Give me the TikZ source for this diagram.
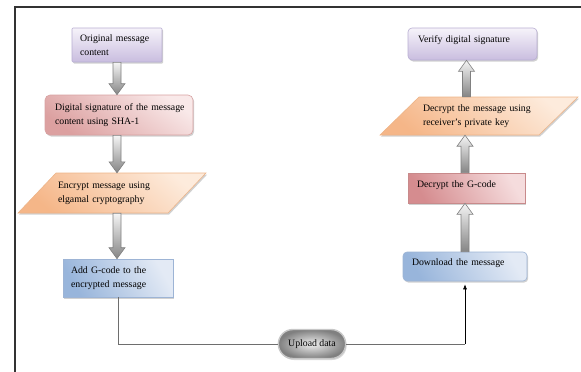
\documentclass[tikz,border=0pt]{standalone}
\usepackage{fontspec}
\setmainfont{Liberation Serif}
\usetikzlibrary{shapes.misc,shadows,backgrounds,calc,arrows.meta}

\definecolor{purpletop}{HTML}{F6F3FA}
\definecolor{purplebot}{HTML}{C9BDDF}
\definecolor{purpleedge}{HTML}{B8AED2}
\definecolor{pinklight}{HTML}{F9E9E9}
\definecolor{pinkdark}{HTML}{DCA0A0}
\definecolor{pinkedge}{HTML}{D7A2A2}
\definecolor{orangelight}{HTML}{FDEBDC}
\definecolor{orangedark}{HTML}{F5B688}
\definecolor{orangeedge}{HTML}{EDB488}
\definecolor{bluelight}{HTML}{E3EAF5}
\definecolor{bluedark}{HTML}{98B5DB}
\definecolor{blueedge}{HTML}{9DB4D5}
\definecolor{redlight}{HTML}{F5DCDD}
\definecolor{reddark}{HTML}{D58C8F}
\definecolor{rededge}{HTML}{C88A8B}
\definecolor{framecol}{HTML}{333333}
\definecolor{linkgray}{HTML}{6E6E6E}

\newcommand\oneline[1]{\mbox{#1}}

\newcommand\blockarrow[2]{%
  \path[blk] let \p1=(#1), \p2=(#2), \n1={11*sign(\y2-\y1)} in
    ({\x1-4pt},{\y1}) -- ({\x1-4pt},{\y2-\n1*1pt}) -- ({\x1-8pt},{\y2-\n1*1pt})
    -- ({\x1},{\y2}) -- ({\x1+8pt},{\y2-\n1*1pt}) -- ({\x1+4pt},{\y2-\n1*1pt})
    -- ({\x1+4pt},{\y1}) -- cycle;}

\tikzset{
  x=1pt, y=-1pt,
  base/.style={inner ysep=0pt, align=left, line width=0.6pt,
    font=\fontsize{9.8}{14}\selectfont,
    drop shadow={shadow xshift=1.2pt, shadow yshift=-1.5pt, opacity=0.3, fill=black!60}},
  single/.style={text height=7pt, text depth=9pt},
  purplebox/.style={base, draw=purpleedge, top color=purpletop, bottom color=purplebot},
  pinkbox/.style={base, draw=pinkedge, top color=pinklight, bottom color=pinkdark, shading angle=-35},
  bluebox/.style={base, draw=blueedge, top color=bluelight, bottom color=bluedark, shading angle=-60},
  redbox/.style={base, draw=rededge, top color=redlight, bottom color=reddark, shading angle=-60},
  paratext/.style={inner sep=0pt, align=left, font=\fontsize{9.8}{14}\selectfont},
  parashape/.style={draw=orangeedge, line width=0.6pt, top color=orangelight, bottom color=orangedark, shading angle=-40,
    drop shadow={shadow xshift=1.2pt, shadow yshift=-1.5pt, opacity=0.3, fill=black!60}},
  pill/.style={rounded rectangle, draw=black!22, line width=1.4pt, inner color=black!6, outer color=black!50,
    font=\fontsize{9.8}{14}\selectfont, drop shadow={shadow xshift=1pt, shadow yshift=-1.5pt, opacity=0.3}},
  blk/.style={draw=black!50, line width=0.6pt, top color=black!4, bottom color=black!48},
  link/.style={draw=linkgray, line width=1pt},
  frameline/.style={draw=framecol, line width=1.2pt},
}

\begin{document}
\begin{tikzpicture}
\useasboundingbox (0,0) rectangle (581,372);

% frame
\coordinate (fa) at (581,7);
\coordinate (fb) at (15,7);
\coordinate (fc) at (15,372);
\draw[frameline] (fa) -- (fb) -- (fc);

% left column
\node[purplebox, rounded corners=1pt, minimum width=90, minimum height=34, inner xsep=8, text width=74] (orig) at (117,45)
  {\oneline{Original message}\\\oneline{content}};
\node[pinkbox, rounded corners=5pt, minimum width=148, minimum height=40, inner xsep=10, text width=128] (sig) at (119,115)
  {\oneline{Digital signature of the message}\\\oneline{content using SHA-1}};
\node[paratext, minimum height=40, text width=108] (enc) at (112,193)
  {\oneline{Encrypt message using}\\\oneline{elgamal cryptography}};
\node[bluebox, minimum width=110, minimum height=38, inner xsep=8, text width=94] (add) at (118,278)
  {\oneline{Add G-code to the}\\\oneline{encrypted message}};

% bottom
\node[pill, minimum width=74, minimum height=29] (upload) at (312,344) {Upload data};

% right column
\node[bluebox, single, rounded corners=4pt, minimum width=124, minimum height=29, inner xsep=9, text width=106] (download) at (465,266.5)
  {\oneline{Download the message}};
\node[redbox, single, minimum width=117, minimum height=30, inner xsep=9, text width=99] (dgc) at (466.5,188)
  {\oneline{Decrypt the G-code}};
\node[paratext, minimum height=38, text width=112] (dec) at (479,116)
  {\oneline{Decrypt the message using}\\\oneline{receiver's private key}};
\node[purplebox, single, text depth=10pt, rounded corners=4pt, minimum width=129, minimum height=32, inner xsep=10, text width=109] (verify) at (472.5,44)
  {\oneline{Verify digital signature}};

% parallelograms behind the text
\begin{scope}[on background layer]
  \path[parashape] ($(enc.center)+(-94,20)$) -- ($(enc.center)+(-56,-20)$) -- ($(enc.center)+(94,-20)$) -- ($(enc.center)+(56,20)$) -- cycle;
  \path[parashape] ($(dec.center)+(-99,19)$) -- ($(dec.center)+(-60,-19)$) -- ($(dec.center)+(99,-19)$) -- ($(dec.center)+(60,19)$) -- cycle;
\end{scope}

% block arrows
\blockarrow{orig.south}{sig.north -| orig.south}
\blockarrow{sig.south -| orig.south}{enc.north -| orig.south}
\blockarrow{enc.south -| orig.south}{add.north -| orig.south}
\blockarrow{download.north}{dgc.south -| download.north}
\blockarrow{dgc.north -| download.north}{dec.south -| download.north}
\blockarrow{dec.north -| dgc.north}{verify.south -| dgc.north}

% connectors
\draw[link] (add.south) |- (upload.west);
\coordinate (turn) at (download.south |- upload.east);
\draw[link] (upload.east) -- (turn);
\draw[black, line width=0.6pt, -{Latex[length=5pt,width=4pt]}, shorten >=3pt] (turn) -- (download.south);
\end{tikzpicture}
\end{document}
